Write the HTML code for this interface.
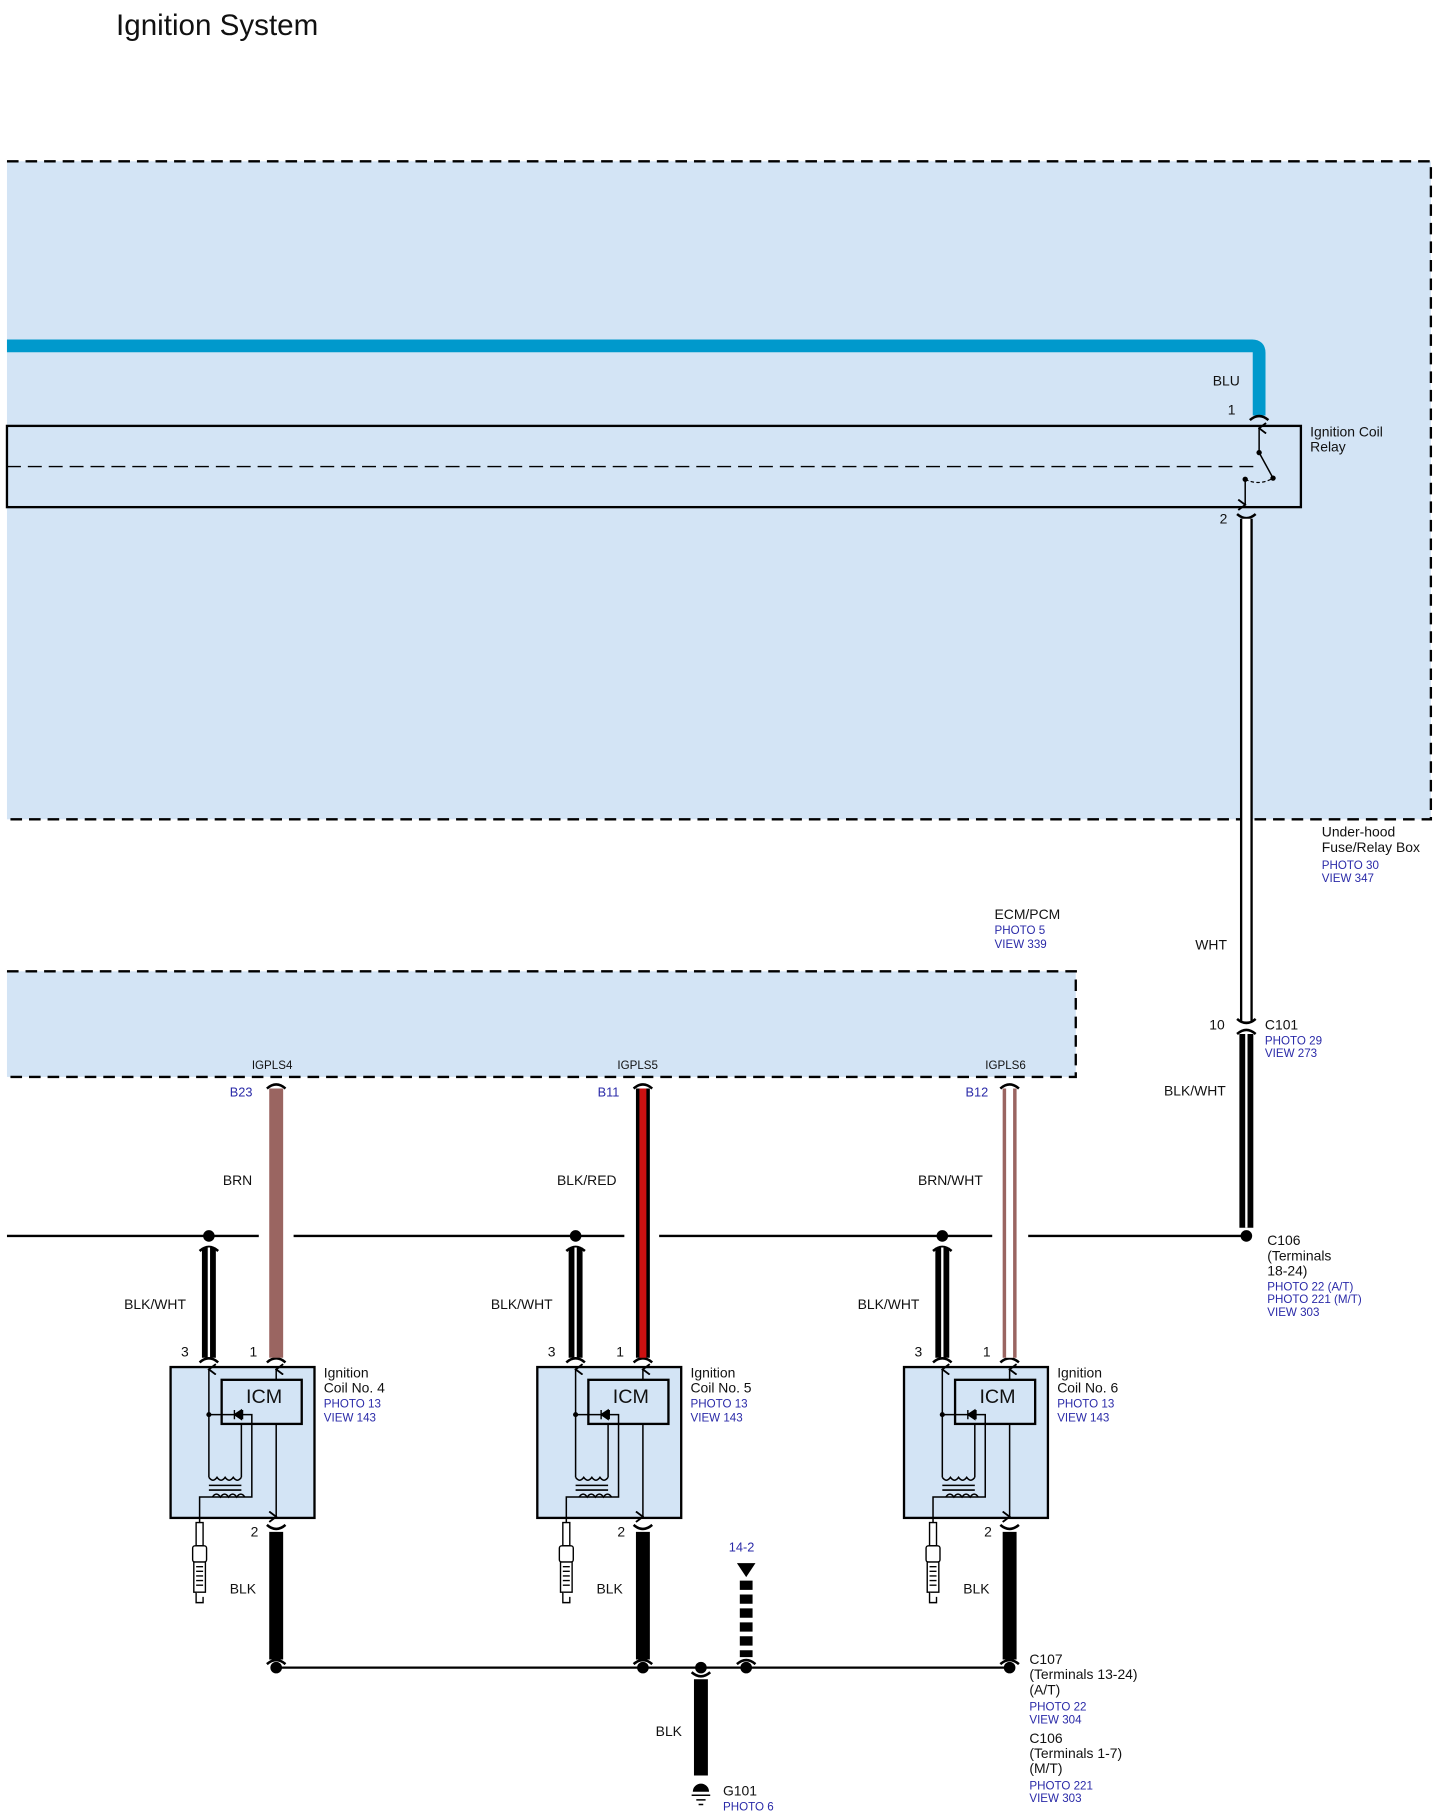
<!DOCTYPE html>
<html><head><meta charset="utf-8"><style>
html,body{margin:0;padding:0;background:#fff;}
svg{display:block;}
text{font-family:"Liberation Sans",Arial,sans-serif;font-size:12px;fill:#111;}
.b{fill:#2a2aa8;font-size:11px;}
.s{font-size:10px;}
</style></head><body>
<svg width="1439" height="1815" viewBox="0 0 1240 1564" xmlns="http://www.w3.org/2000/svg">
<defs>
<g id="cap"><path d="M-8,4 Q0,-3 8,4" fill="none" stroke="#000" stroke-width="2.2"/></g>
<g id="capd"><path d="M-8,-4 Q0,3 8,-4" fill="none" stroke="#000" stroke-width="2.2"/></g>
<marker id="ar" viewBox="0 0 10 10" refX="5" refY="1" markerWidth="10" markerHeight="10" markerUnits="userSpaceOnUse" orient="auto-start-reverse"><path d="M0.5,7 L5,1 L9.5,7" fill="none" stroke="#000" stroke-width="1.6"/></marker>
<g id="coil">
<rect x="147" y="1178" width="124" height="130" fill="#d3e4f5" stroke="#000" stroke-width="2"/>
<rect x="191" y="1189" width="69" height="38" fill="#d3e4f5" stroke="#000" stroke-width="2"/>
<text x="212" y="1209" style="font-size:17px">ICM</text>
<path d="M180,1273 V1180" fill="none" stroke="#000" stroke-width="1.3" marker-end="url(#ar)"/>
<path d="M238,1189 V1180" fill="none" stroke="#000" stroke-width="1.3" marker-end="url(#ar)"/>
<path d="M238,1227 V1307" fill="none" stroke="#000" stroke-width="1.3" marker-end="url(#ar)"/>
<circle cx="180" cy="1219" r="2.2"/>
<path d="M180,1219 H217 V1290 H172 V1312" fill="none" stroke="#000" stroke-width="1.3"/>
<path d="M202,1215 V1223 M202,1219 L208,1215 V1223 Z M209,1215 V1223" fill="#000" stroke="#000" stroke-width="1.2"/>
<path d="M208,1227 V1273" fill="none" stroke="#000" stroke-width="1.3"/>
<path d="M180,1273 q3.5,5 7,0 q3.5,5 7,0 q3.5,5 7,0 q3.5,5 7,0" fill="none" stroke="#000" stroke-width="1.3"/>
<path d="M180,1280 H208 M180,1284 H208" stroke="#000" stroke-width="1.3"/>
<path d="M183,1290 q3.5,-5 7,0 q3.5,-5 7,0 q3.5,-5 7,0 q3.5,-5 7,0" fill="none" stroke="#000" stroke-width="1.3"/>
<g fill="#fff" stroke="#000" stroke-width="1.2">
<rect x="169" y="1312" width="6" height="20"/>
<rect x="166" y="1332" width="12" height="14" rx="2"/>
<rect x="167" y="1346" width="10" height="26"/>
<path d="M169,1350 H175 M169,1354 H175 M169,1358 H175 M169,1362 H175 M169,1366 H175"/>
<path d="M169,1372 V1381 H175 V1376"/>
</g>
</g>
</defs>

<text x="100" y="30" style="font-size:25.5px">Ignition System</text>

<rect x="6" y="139" width="1227" height="567" fill="#d3e4f5"/>
<path d="M6,139 H1233 V706 H6" fill="none" stroke="#000" stroke-width="2" stroke-dasharray="10,6"/>
<path d="M6,298 H1079 Q1085,298 1085,304 V358" fill="none" stroke="#0099cc" stroke-width="11"/>
<text x="1045" y="332">BLU</text>
<text x="1058" y="357">1</text>
<use href="#cap" x="1085" y="358"/>
<rect x="6" y="367" width="1115" height="70" fill="none" stroke="#000" stroke-width="2"/>
<path d="M6,402 H1080" stroke="#000" stroke-width="1.2" stroke-dasharray="12,6" fill="none"/>
<path d="M1085,390 V369" stroke="#000" stroke-width="1.3" marker-end="url(#ar)"/>
<circle cx="1085" cy="390" r="2.3"/><circle cx="1097" cy="412" r="2.3"/><circle cx="1073" cy="413" r="2.3"/>
<path d="M1085,390 L1097,412" stroke="#000" stroke-width="1.3"/>
<path d="M1073,413 Q1085,419 1097,412" stroke="#000" stroke-width="1" stroke-dasharray="3,2" fill="none"/>
<path d="M1073,413 V435" stroke="#000" stroke-width="1.3" marker-end="url(#ar)"/>
<text x="1129" y="376">Ignition Coil</text><text x="1129" y="389">Relay</text>
<text x="1051" y="451">2</text>
<use href="#capd" x="1074" y="447"/>
<path d="M1074,447 V880" stroke="#000" stroke-width="11"/>
<path d="M1074,447 V880" stroke="#fff" stroke-width="7"/>
<text x="1030" y="818">WHT</text>
<text x="1139" y="721">Under-hood</text><text x="1139" y="734">Fuse/Relay Box</text>
<text x="1139" y="749" class="b s">PHOTO 30</text><text x="1139" y="760" class="b s">VIEW 347</text>

<text x="857" y="792">ECM/PCM</text>
<text x="857" y="805" class="b s">PHOTO 5</text><text x="857" y="817" class="b s">VIEW 339</text>
<rect x="6" y="837" width="921" height="91" fill="#d3e4f5"/>
<path d="M6,837 H927 V928 H6" fill="none" stroke="#000" stroke-width="2" stroke-dasharray="10,6"/>
<text x="217" y="921" class="s">IGPLS4</text>
<text x="532" y="921" class="s">IGPLS5</text>
<text x="849" y="921" class="s">IGPLS6</text>

<use href="#capd" x="1074" y="882"/><use href="#cap" x="1074" y="887"/>
<text x="1042" y="887">10</text>
<text x="1090" y="887">C101</text>
<text x="1090" y="900" class="b s">PHOTO 29</text><text x="1090" y="911" class="b s">VIEW 273</text>
<path d="M1074,891 V1058" stroke="#000" stroke-width="12"/>
<path d="M1074,891 V1058" stroke="#fff" stroke-width="2"/>
<text x="1003" y="944">BLK/WHT</text>

<path d="M6,1065 H223 M253,1065 H538 M568,1065 H855 M886,1065 H1074" stroke="#000" stroke-width="2"/>
<circle cx="1074" cy="1065" r="5"/>
<text x="1092" y="1073">C106</text><text x="1092" y="1086">(Terminals</text><text x="1092" y="1099">18-24)</text>
<text x="1092" y="1112" class="b s">PHOTO 22 (A/T)</text><text x="1092" y="1123" class="b s">PHOTO 221 (M/T)</text><text x="1092" y="1134" class="b s">VIEW 303</text>

<g id="c4">
<circle cx="180" cy="1065" r="5"/>
<use href="#cap" x="180" y="1074"/>
<path d="M180,1075 V1170" stroke="#000" stroke-width="12"/><path d="M180,1075 V1170" stroke="#fff" stroke-width="2"/>
<use href="#cap" x="180" y="1170"/><use href="#cap" x="238" y="1170"/>
<text x="107" y="1128">BLK/WHT</text>
<text x="156" y="1169">3</text><text x="215" y="1169">1</text>
<use href="#capd" x="238" y="1318"/>
<path d="M238,1320 V1430" stroke="#000" stroke-width="12"/>
<text x="216" y="1324">2</text>
<text x="198" y="1373">BLK</text>
<use href="#cap" x="238" y="1430"/>
<circle cx="238" cy="1437" r="5"/>
</g>
<use href="#c4" x="316"/>
<use href="#c4" x="632"/>
<use href="#coil"/><use href="#coil" x="316"/><use href="#coil" x="632"/>

<use href="#cap" x="238" y="934"/>
<path d="M238,938 V1170" stroke="#9a6561" stroke-width="12"/>
<text x="198" y="945" class="b">B23</text><text x="192" y="1021">BRN</text>
<use href="#cap" x="554" y="934"/>
<path d="M554,938 V1170" stroke="#000" stroke-width="12"/><path d="M554,938 V1170" stroke="#cc1111" stroke-width="6"/>
<text x="515" y="945" class="b">B11</text><text x="480" y="1021">BLK/RED</text>
<use href="#cap" x="870" y="934"/>
<path d="M870,938 V1170" stroke="#9a6561" stroke-width="12"/><path d="M870,938 V1170" stroke="#fff" stroke-width="6"/>
<text x="832" y="945" class="b">B12</text><text x="791" y="1021">BRN/WHT</text>

<text x="279" y="1187">Ignition</text><text x="279" y="1200">Coil No. 4</text>
<text x="279" y="1213" class="b s">PHOTO 13</text><text x="279" y="1225" class="b s">VIEW 143</text>
<text x="595" y="1187">Ignition</text><text x="595" y="1200">Coil No. 5</text>
<text x="595" y="1213" class="b s">PHOTO 13</text><text x="595" y="1225" class="b s">VIEW 143</text>
<text x="911" y="1187">Ignition</text><text x="911" y="1200">Coil No. 6</text>
<text x="911" y="1213" class="b s">PHOTO 13</text><text x="911" y="1225" class="b s">VIEW 143</text>

<path d="M238,1437 H870" stroke="#000" stroke-width="2"/>
<circle cx="604" cy="1437" r="5"/><circle cx="643" cy="1437" r="5"/>
<text x="628" y="1337" class="b">14-2</text>
<path d="M635,1347 H651 L643,1359 Z" fill="#000"/>
<path d="M643,1362 V1428" stroke="#000" stroke-width="11" stroke-dasharray="8,4"/>
<use href="#cap" x="643" y="1430"/>
<use href="#capd" x="604" y="1445"/>
<path d="M604,1447 V1530" stroke="#000" stroke-width="12"/>
<text x="565" y="1496">BLK</text>
<path d="M597,1544 A7,7 0 0 1 611,1544 Z" fill="#000"/>
<path d="M596,1547 H612 M600,1551 H608 M602,1555 H606" stroke="#000" stroke-width="1.3"/>
<text x="623" y="1547">G101</text><text x="623" y="1560" class="b s">PHOTO 6</text>
<text x="887" y="1434">C107</text><text x="887" y="1447">(Terminals 13-24)</text><text x="887" y="1460">(A/T)</text>
<text x="887" y="1474" class="b s">PHOTO 22</text><text x="887" y="1485" class="b s">VIEW 304</text>
<text x="887" y="1502">C106</text><text x="887" y="1515">(Terminals 1-7)</text><text x="887" y="1528">(M/T)</text>
<text x="887" y="1542" class="b s">PHOTO 221</text><text x="887" y="1553" class="b s">VIEW 303</text>
</svg>
</body></html>
